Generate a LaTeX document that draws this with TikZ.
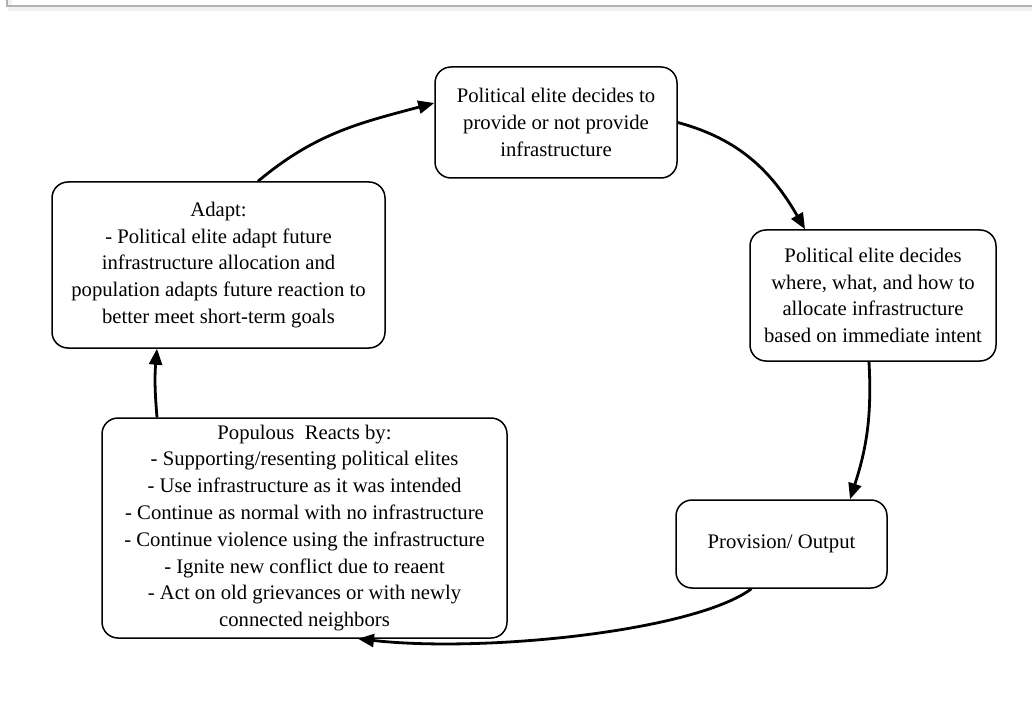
\documentclass[tikz,border=0pt]{standalone}
\usepackage{fontspec}
\setmainfont{Liberation Serif}
\usetikzlibrary{arrows.meta}
\begin{document}
\begin{tikzpicture}[x=1pt,y=1pt,
  box/.style={draw=black, line width=1.5pt, rounded corners=16pt, align=center,
    inner sep=0pt, font=\fontsize{20.7}{26.8}\selectfont},
  conn/.style={line width=2.8pt, -{Triangle[length=16pt,width=13pt]}}]
\fill[white] (0,0) rectangle (1032,713);
\useasboundingbox (0,0) rectangle (1032,713);
% frame
\draw[gray!10, line width=4pt] (10,713) -- (10,704) -- (1032,704);
\draw[gray!60, line width=1.3pt] (7,713) -- (7,707) -- (1032,707);
% nodes
\node[box, minimum width=242pt, minimum height=111pt] (n1) at (556,590.5)
  {Political elite decides to\\provide or not provide\\infrastructure};
\node[box, minimum width=246pt, minimum height=131pt] (n2) at (873,417.5)
  {Political elite decides\\where, what, and how to\\allocate infrastructure\\based on immediate intent};
\node[box, minimum width=211pt, minimum height=88pt] (n3) at (781.5,169)
  {Provision/ Output};
\node[box, minimum width=405pt, minimum height=220pt] (n4) at (304.5,185)
  {Populous\ \ Reacts by:\\- Supporting/resenting political elites\\- Use infrastructure as it was intended\\- Continue as normal with no infrastructure\\- Continue violence using the infrastructure\\- Ignite new conflict due to reaent\\- Act on old grievances or with newly\\connected neighbors};
\node[box, minimum width=333pt, minimum height=166pt] (n5) at (218.5,448)
  {Adapt:\\- Political elite adapt future\\infrastructure allocation and\\population adapts future reaction to\\better meet short-term goals};
% connectors
\draw[conn] ([xshift=39.5pt]n5.north) to[out=40, in=195] ([yshift=19.5pt]n1.west);
\draw[conn] (n1.east) to[out=-15, in=120] ([xshift=-68pt]n2.north);
\draw[conn] ([xshift=-4pt]n2.south) to[out=-87, in=72] ([xshift=68.5pt]n3.north);
\draw[conn] ([xshift=-30pt]n3.south) .. controls (695,82) and (485,60) .. ([xshift=53.5pt]n4.south);
\draw[conn] ([xshift=-147.5pt]n4.north) to[out=95, in=-95] ([xshift=-61.5pt]n5.south);
\end{tikzpicture}
\end{document}
